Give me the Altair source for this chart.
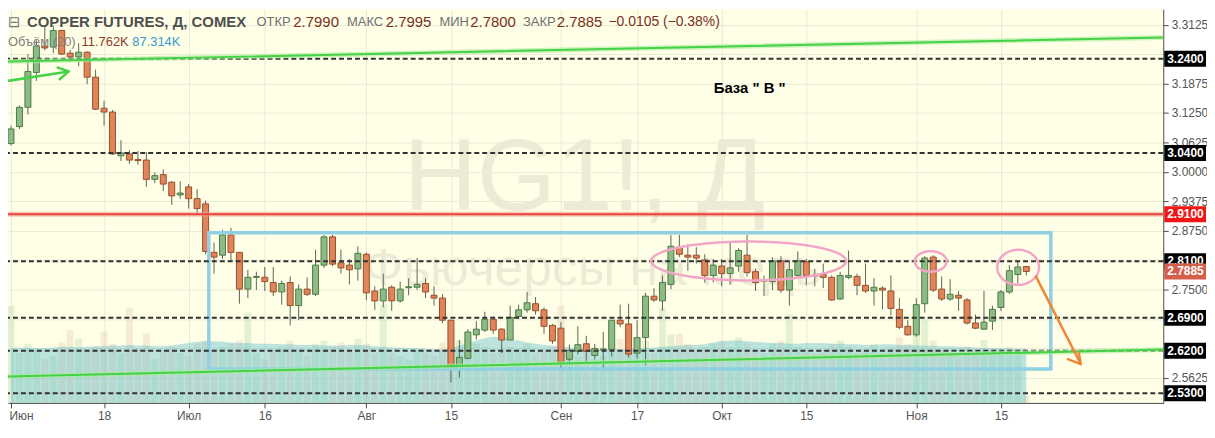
import altair as alt
import pandas as pd
import numpy as np

# ---------------- data ----------------
opens = [3.060, 3.096, 3.137, 3.211, 3.267, 3.265, 3.300, 3.252, 3.244, 3.254,
         3.201, 3.135, 3.127, 3.034, 3.038, 3.026, 3.025, 2.984, 2.994, 2.978,
         2.951, 2.968, 2.943, 2.932, 2.829, 2.823, 2.866, 2.829, 2.751, 2.776,
         2.776, 2.765, 2.745, 2.765, 2.716, 2.751, 2.740, 2.802, 2.862, 2.807,
         2.802, 2.794, 2.825, 2.747, 2.726, 2.755, 2.726, 2.754, 2.755, 2.763,
         2.738, 2.732, 2.685, 2.582, 2.604, 2.654, 2.664, 2.687, 2.666, 2.643,
         2.693, 2.707, 2.720, 2.707, 2.674, 2.668, 2.602, 2.619, 2.635, 2.610,
         2.622, 2.623, 2.685, 2.677, 2.615, 2.648, 2.736, 2.726, 2.761, 2.840,
         2.823, 2.823, 2.813, 2.780, 2.800, 2.784, 2.800, 2.823, 2.788, 2.768,
         2.767, 2.811, 2.749, 2.780, 2.809, 2.781, 2.782, 2.776, 2.730, 2.776,
         2.778, 2.759, 2.747, 2.753, 2.747, 2.708, 2.672, 2.654, 2.720, 2.819,
         2.751, 2.730, 2.738, 2.728, 2.679, 2.666, 2.683, 2.712, 2.745, 2.782,
         2.7990]
highs = [3.098, 3.141, 3.250, 3.279, 3.310, 3.310, 3.302, 3.259, 3.273, 3.256,
         3.217, 3.151, 3.131, 3.067, 3.046, 3.044, 3.042, 2.999, 3.005, 2.980,
         2.980, 2.974, 2.963, 2.939, 2.850, 2.877, 2.881, 2.830, 2.792, 2.788,
         2.798, 2.798, 2.769, 2.778, 2.761, 2.776, 2.835, 2.866, 2.866, 2.835,
         2.815, 2.842, 2.829, 2.757, 2.784, 2.759, 2.767, 2.774, 2.817, 2.774,
         2.757, 2.740, 2.686, 2.643, 2.666, 2.683, 2.703, 2.693, 2.668, 2.716,
         2.718, 2.745, 2.734, 2.712, 2.677, 2.681, 2.633, 2.672, 2.652, 2.635,
         2.660, 2.685, 2.718, 2.720, 2.685, 2.743, 2.753, 2.780, 2.866, 2.866,
         2.846, 2.840, 2.825, 2.815, 2.815, 2.850, 2.838, 2.866, 2.794, 2.780,
         2.819, 2.821, 2.811, 2.831, 2.815, 2.794, 2.805, 2.780, 2.788, 2.833,
         2.784, 2.805, 2.774, 2.757, 2.780, 2.732, 2.685, 2.732, 2.821, 2.823,
         2.778, 2.772, 2.747, 2.732, 2.697, 2.747, 2.716, 2.749, 2.802, 2.809,
         2.7995]
lows = [3.056, 3.091, 3.122, 3.193, 3.258, 3.252, 3.248, 3.234, 3.224, 3.186,
        3.131, 3.098, 3.036, 3.023, 3.017, 3.015, 2.968, 2.976, 2.959, 2.930,
        2.943, 2.922, 2.910, 2.825, 2.784, 2.815, 2.811, 2.720, 2.732, 2.749,
        2.747, 2.736, 2.718, 2.674, 2.685, 2.736, 2.736, 2.796, 2.800, 2.784,
        2.761, 2.769, 2.728, 2.707, 2.712, 2.705, 2.722, 2.738, 2.749, 2.732,
        2.716, 2.679, 2.553, 2.563, 2.602, 2.644, 2.660, 2.656, 2.615, 2.643,
        2.687, 2.701, 2.697, 2.656, 2.635, 2.582, 2.592, 2.612, 2.594, 2.602,
        2.584, 2.608, 2.670, 2.606, 2.604, 2.590, 2.724, 2.705, 2.751, 2.819,
        2.790, 2.805, 2.765, 2.765, 2.757, 2.761, 2.788, 2.778, 2.747, 2.736,
        2.749, 2.743, 2.716, 2.778, 2.759, 2.757, 2.753, 2.726, 2.728, 2.772,
        2.738, 2.743, 2.716, 2.708, 2.695, 2.666, 2.652, 2.650, 2.701, 2.745,
        2.726, 2.726, 2.705, 2.676, 2.666, 2.664, 2.664, 2.705, 2.741, 2.763,
        2.7800]
closes = [3.091, 3.137, 3.213, 3.267, 3.263, 3.300, 3.250, 3.244, 3.254, 3.201,
          3.133, 3.127, 3.038, 3.040, 3.025, 3.024, 2.984, 2.992, 2.974, 2.949,
          2.955, 2.943, 2.922, 2.831, 2.819, 2.866, 2.829, 2.751, 2.776, 2.778,
          2.767, 2.745, 2.763, 2.716, 2.751, 2.740, 2.802, 2.862, 2.804, 2.796,
          2.792, 2.827, 2.743, 2.726, 2.751, 2.726, 2.751, 2.756, 2.761, 2.745,
          2.732, 2.685, 2.582, 2.606, 2.660, 2.666, 2.687, 2.664, 2.643, 2.691,
          2.707, 2.722, 2.705, 2.672, 2.641, 2.596, 2.621, 2.633, 2.619, 2.625,
          2.624, 2.685, 2.677, 2.613, 2.648, 2.736, 2.728, 2.765, 2.842, 2.825,
          2.819, 2.817, 2.780, 2.802, 2.784, 2.796, 2.833, 2.786, 2.765, 2.770,
          2.811, 2.749, 2.792, 2.811, 2.780, 2.779, 2.776, 2.728, 2.780, 2.780,
          2.759, 2.747, 2.755, 2.749, 2.710, 2.670, 2.654, 2.718, 2.817, 2.749,
          2.730, 2.740, 2.732, 2.679, 2.668, 2.681, 2.708, 2.745, 2.790, 2.798,
          2.7885]
volumes = [156, 80, 95, 85, 70, 75, 97, 117, 103, 85,
           90, 114, 95, 80, 153, 88, 111, 70, 85, 90,
           80, 75, 95, 100, 85, 90, 95, 100, 145, 80,
           70, 85, 90, 100, 85, 75, 95, 100, 90, 97,
           85, 103, 95, 80, 158, 80, 75, 70, 85, 80,
           75, 97, 120, 100, 105, 95, 90, 80, 85, 90,
           85, 95, 80, 85, 90, 156, 80, 75, 85, 70,
           75, 95, 103, 90, 85, 100, 80, 153, 110, 111,
           95, 85, 90, 95, 100, 90, 105, 95, 85, 80,
           95, 100, 142, 90, 85, 80, 85, 95, 100, 90,
           80, 85, 95, 80, 90, 105, 95, 117, 134, 100,
           85, 80, 75, 90, 85, 101, 85, 80, 90, 85,
           11.762]
vol_ma = [88, 89, 89, 88, 88, 89, 90, 90, 89, 90,
          91, 91, 92, 92, 93, 92, 92, 91, 91, 92,
          94, 96, 98, 99, 99, 98, 97, 96, 96, 95,
          95, 95, 94, 94, 93, 93, 93, 92, 92, 92,
          93, 93, 92, 91, 90, 89, 89, 88, 88, 87,
          86, 86, 88, 92, 96, 100, 104, 106, 105, 102,
          100, 97, 95, 93, 92, 90, 89, 88, 87, 86,
          86, 86, 86, 87, 87, 88, 89, 90, 91, 92,
          93, 93, 94, 97, 99, 100, 100, 99, 98, 97,
          96, 96, 95, 95, 96, 96, 96, 95, 95, 94,
          94, 93, 93, 94, 94, 93, 93, 92, 92, 92,
          91, 91, 90, 90, 89, 88, 88, 88, 87, 87,
          87.314]
tick_idx = [0, 11, 21, 30, 42, 52, 65, 74, 84, 94, 107, 117]
tick_labels = ["Июн", "18", "Июл", "16", "Авг", "15", "Сен", "17", "Окт", "15", "Ноя", "15"]
price_ticks = [3.3125, 3.25, 3.1875, 3.125, 3.0625, 3.0, 2.9375, 2.875,
               2.8125, 2.75, 2.6875, 2.625, 2.5625]
hidden_ticks = [3.25, 2.8125, 2.6875, 2.625]
level_values = [3.24, 3.04, 2.81, 2.69, 2.62, 2.53]
resistance = 2.91
last_close = 2.7885

# drawings (anchor points in bar-index / price units)
upper_trend_i = [-1.29, 136.19]
upper_trend_p = [3.2338, 3.2854]
lower_trend_i = [-1.29, 136.19]
lower_trend_p = [2.5651, 2.6229]
box_i = [23.38, 122.9]
box_p = [2.5816, 2.8706]
ell_cx = [87.19, 108.7, 119.04]
ell_cy = [2.8107, 2.8098, 2.7973]
ell_rx = [11.52, 1.88, 2.47]
ell_ry = [0.0413, 0.0217, 0.0372]
garrow_i = [-1.29, 6.82, 5.52, 6.82, 5.76]
garrow_p = [3.1905, 3.2132, 3.2214, 3.2132, 3.1967]
oarrow_i = [121.15, 126.44, 124.91, 126.44, 126.2]
oarrow_p = [2.7776, 2.5919, 2.6022, 2.5919, 2.6167]

# ---------------- layout ----------------
W, H = 1162, 396
FONT = "Liberation Sans"
XS = alt.Scale(domain=[-0.3525, 136.19], nice=False, zero=False, padding=0)
YS = alt.Scale(domain=[2.5094, 3.3453], nice=False, zero=False, padding=0)
VS = alt.Scale(domain=[0, 631.8], nice=False, zero=False, padding=0)
GRID = "#e7ead4"

label_expr = "".join(f"datum.value == {i} ? '{l}' : " for i, l in zip(tick_idx, tick_labels)) + "''"
y_label_expr = ("indexof([" + ",".join(str(v) for v in hidden_ticks) +
                "], datum.value) >= 0 ? '' : format(datum.value, '.4f')")
X_AX = alt.Axis(values=tick_idx, labelExpr=label_expr, title=None, grid=True, gridColor=GRID,
                domainColor="#4a4a4a", tickColor="#4a4a4a", tickSize=5, labelColor="#555555",
                labelFontSize=12, labelFont=FONT, labelPadding=3, labelFlush=6, labelFlushOffset=2)
Y_AX = alt.Axis(orient="right", values=price_ticks, labelExpr=y_label_expr, title=None, grid=True,
                gridColor=GRID, domainColor="#4a4a4a", tickColor="#4a4a4a", tickSize=5,
                labelColor="#555555", labelFontSize=12, labelFont=FONT, labelPadding=3,
                labelFlush=False)

n = len(opens)
df = pd.DataFrame({"i": list(range(n)), "open": opens, "high": highs, "low": lows,
                   "close": closes, "vol": volumes, "ma": vol_ma})
df["dir"] = np.where(df["close"] >= df["open"], "up", "down")

X = alt.X("i:Q", scale=XS, axis=X_AX)


def txt(s, x, y, color, size, weight="normal", font=FONT, align="left", baseline="middle", opacity=1):
    return alt.Chart(alt.Data(values=[{}])).mark_text(
        text=s, align=align, baseline=baseline, font=font, fontSize=size,
        fontWeight=weight, color=color, opacity=opacity
    ).encode(x=alt.value(x), y=alt.value(y))


# watermark + volume (own y scale)
wm1 = txt("HG1!, Д", 580, 202, "#ecebd6", 102, align="center", baseline="alphabetic")
wm2 = txt("Фьючерсы на медь", 588, 277, "#ecebd6", 52, align="center", baseline="alphabetic")


def vbar(direction, color):
    return alt.Chart(df).transform_filter(alt.datum.dir == direction).mark_bar(
        size=7, opacity=0.5, color=color).encode(x=X, y=alt.Y("vol:Q", scale=VS, axis=None))


vbars_up = vbar("up", "#c9e3b8")
vbars_dn = vbar("down", "#eed8bd")
varea = alt.Chart(df).mark_area(color="#5fbccc", opacity=0.42).encode(
    x=X, y=alt.Y("ma:Q", scale=VS, axis=None))
vol_group = alt.layer(wm1, wm2, vbars_up, vbars_dn, varea)

Y = lambda f: alt.Y(f, scale=YS, axis=Y_AX)

wicks = alt.Chart(df).mark_rule(color="#5c6652", strokeWidth=1, opacity=1).encode(x=X, y=Y("low:Q"), y2="high:Q")


def body(direction, fill, stroke):
    return alt.Chart(df).transform_filter(alt.datum.dir == direction).mark_bar(
        size=6, strokeWidth=1, opacity=1, fill=fill, stroke=stroke).encode(
        x=X, y=Y("open:Q"), y2="close:Q")


bodies_up = body("up", "#8dbb86", "#4d7a47")
bodies_dn = body("down", "#e0845a", "#9a4f2c")

lv = pd.DataFrame({"p": level_values})
dashed = alt.Chart(lv).mark_rule(color="#333333", strokeWidth=2, strokeDash=[5, 3]).encode(y=Y("p:Q"))
rs = pd.DataFrame({"p": [resistance]})
red_glow = alt.Chart(rs).mark_rule(color="#f3a096", strokeWidth=5, opacity=0.6).encode(y=Y("p:Q"))
red = alt.Chart(rs).mark_rule(color="#e8463a", strokeWidth=2).encode(y=Y("p:Q"))

tl = pd.DataFrame({"i": upper_trend_i + lower_trend_i, "p": upper_trend_p + lower_trend_p,
                   "g": ["u", "u", "l", "l"], "k": [0, 1, 0, 1]})


def lines(frame, color, width, opacity=1.0):
    return alt.Chart(frame).mark_line(color=color, strokeWidth=width, opacity=opacity, clip=True,
                                      strokeCap="round", strokeJoin="round").encode(
        x=X, y=Y("p:Q"), detail="g:N", order="k:Q")


green_glow = lines(tl, "#a8ec9c", 5, 0.6)
green = lines(tl, "#46d146", 2)

box = alt.Chart(pd.DataFrame({"i": [box_i[0]], "i2": [box_i[1]], "p": [box_p[0]], "p2": [box_p[1]]})).mark_rect(
    fillOpacity=0, stroke="#8fd0e4", strokeWidth=3.5, opacity=1).encode(x=X, x2="i2:Q", y=Y("p:Q"), y2="p2:Q")

t = np.linspace(0, 2 * np.pi, 97)
ell_rows = []
for g, (cx, cy, rx, ry) in enumerate(zip(ell_cx, ell_cy, ell_rx, ell_ry)):
    for k, tt in enumerate(t):
        ell_rows.append({"i": cx + rx * np.cos(tt), "p": cy + ry * np.sin(tt), "g": f"e{g}", "k": k})
ells = lines(pd.DataFrame(ell_rows), "#f2a6c6", 2.5)

ga = pd.DataFrame({"i": garrow_i, "p": garrow_p, "g": ["a", "a", "b", "b", "b"], "k": [0, 1, 0, 1, 2]})
garrow = lines(ga, "#46d146", 2.5)
oa = pd.DataFrame({"i": oarrow_i, "p": oarrow_p, "g": ["a", "a", "b", "b", "b"], "k": [0, 1, 0, 1, 2]})
oarrow = lines(oa, "#f08533", 2.5)

baza = txt('База  " В "', 746, 79, "#000000", 15, weight="bold", align="center")

hy1, hy2 = 13, 33
header = [
    txt("⊟", 0, hy1, "#777777", 15, font="DejaVu Sans"),
    txt("COPPER FUTURES, Д, COMEX", 19, hy1, "#4f4f4f", 15, weight="bold"),
    txt("ОТКР", 250, hy1, "#6e6e6e", 13),
    txt("2.7990", 287, hy1, "#7b2f22", 15),
    txt("МАКС", 341, hy1, "#6e6e6e", 13),
    txt("2.7995", 380, hy1, "#7b2f22", 15),
    txt("МИН", 434, hy1, "#6e6e6e", 13),
    txt("2.7800", 465, hy1, "#7b2f22", 15),
    txt("ЗАКР", 518, hy1, "#6e6e6e", 13),
    txt("2.7885", 552, hy1, "#7b2f22", 15),
    txt("−0.0105 (−0.38%)", 604, hy1, "#7b2f22", 14),
    txt("Объём (20)", 0, hy2, "#808080", 13),
    txt("11.762K", 74, hy2, "#8b3a2a", 13),
    txt("87.314K", 125, hy2, "#3b98d0", 13),
]

bd = pd.DataFrame({"p": level_values + [resistance, last_close],
                   "kind": ["level"] * len(level_values) + ["resist", "last"]})
bd["label"] = bd["p"].map(lambda v: f"{v:.4f}")


def badge(kind, color):
    base = alt.Chart(bd).transform_filter(alt.datum.kind == kind)
    r = base.mark_rect(yOffset=-8, y2Offset=8, opacity=1, color=color).encode(
        x=alt.value(W + 1), x2=alt.value(W + 43), y=Y("p:Q"), y2="p:Q")
    tx = base.mark_text(align="left", baseline="middle", font=FONT, fontSize=12,
                        fontWeight="bold", color="white").encode(
        x=alt.value(W + 4), y=Y("p:Q"), text="label:N")
    return [r, tx]


badges = badge("level", "#000000") + badge("resist", "#f01616") + badge("last", "#d45f4b")

price_group = alt.layer(wicks, bodies_up, bodies_dn, box, dashed, red_glow, red, green_glow, green,
                        ells, garrow, oarrow, baza, *header, *badges)

chart = alt.layer(vol_group, price_group).resolve_scale(y="independent").properties(
    width=W, height=H,
    autosize=alt.AutoSizeParams(type="none"),
    padding={"left": 0, "top": 0, "right": 44, "bottom": 19},
    background="white",
).configure_view(fill="#ffffe8", stroke=None)

chart.save("out.html", embed_options={"renderer": "svg", "actions": False})
